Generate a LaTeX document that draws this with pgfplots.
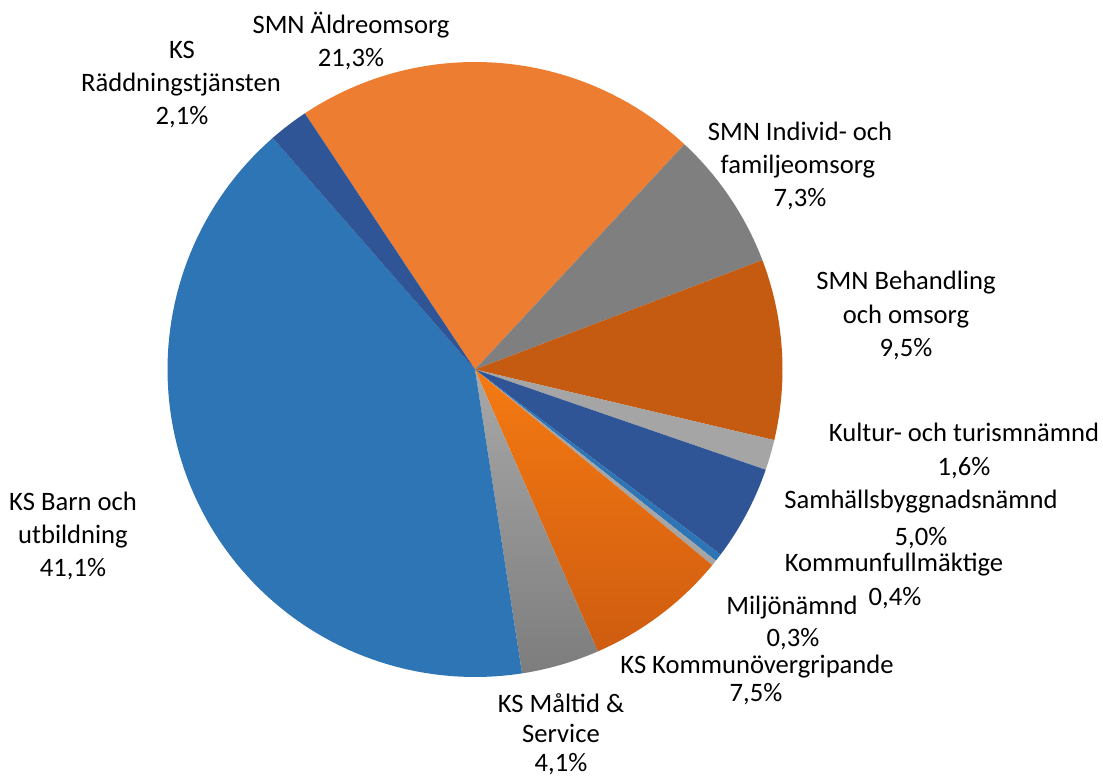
\documentclass[border=0pt]{standalone}
\usepackage{pgfplots}
\pgfplotsset{compat=1.18}
\usepackage{fontspec}
\setmainfont{Carlito}
\definecolor{cBarn}{HTML}{2E75B6}
\definecolor{cRadd}{HTML}{2F5597}
\definecolor{cAldre}{HTML}{ED7D31}
\definecolor{cIndivid}{HTML}{7F7F7F}
\definecolor{cBehand}{HTML}{C55A11}
\definecolor{cKultur}{HTML}{A5A5A5}
\definecolor{cSamh}{HTML}{2F5597}
\definecolor{cKfull}{HTML}{2E75B6}
\definecolor{cMiljo}{HTML}{A5A5A5}
\definecolor{cKoverA}{HTML}{F57A12}
\definecolor{cKoverB}{HTML}{CF5C10}
\definecolor{cMaltidA}{HTML}{A8A8A8}
\definecolor{cMaltidB}{HTML}{7D7D7D}
\tikzset{lbl/.style={font=\fontsize{13.3}{16}\selectfont, text height=10pt, text depth=1.6pt, inner sep=0pt, anchor=center},
  sAldre/.style={fill=cAldre}, sIndivid/.style={fill=cIndivid}, sBehand/.style={fill=cBehand},
  sKultur/.style={fill=cKultur}, sSamh/.style={fill=cSamh}, sKfull/.style={fill=cKfull},
  sMiljo/.style={fill=cMiljo}, sKover/.style={top color=cKoverA, bottom color=cKoverB},
  sMaltid/.style={top color=cMaltidA, bottom color=cMaltidB}, sBarn/.style={fill=cBarn},
  sRadd/.style={fill=cRadd}}
% slices clockwise from the top-left edge: value/style
\def\slices{21.3/sAldre,7.3/sIndivid,9.5/sBehand,1.6/sKultur,5.0/sSamh,0.4/sKfull,0.3/sMiljo,7.5/sKover,4.1/sMaltid,41.1/sBarn,2.1/sRadd}
\begin{document}
\begin{tikzpicture}
\xdef\total{0}
\foreach \v/\c in \slices {\pgfmathsetmacro\tmpsum{\total+\v}\xdef\total{\tmpsum}}
\begin{axis}[width=551.5pt, height=389pt, scale only axis,
  xmin=0, xmax=1103, ymin=0, ymax=778, hide axis, clip=false]
\xdef\cur{123.6}
\foreach \v/\c in \slices {
  \pgfmathsetmacro\nxt{\cur-\v*360/\total}
  \edef\temp{\noexpand\addplot[\c, draw=none, domain=\nxt:\cur, samples=90, variable=\noexpand\q]
    ({475+307.5*cos(\noexpand\q)},{408.5+307.5*sin(\noexpand\q)}) -- (axis cs:475,408.5) -- cycle;}
  \temp
  \xdef\cur{\nxt}
}
\node[lbl] at (axis cs:351,753) {SMN Äldreomsorg};
\node[lbl] at (axis cs:351,720) {21,3\%};
\node[lbl] at (axis cs:182,728) {KS};
\node[lbl] at (axis cs:181,695) {Räddningstjänsten};
\node[lbl] at (axis cs:182,662) {2,1\%};
\node[lbl] at (axis cs:800,646) {SMN Individ- och};
\node[lbl] at (axis cs:798,613) {familjeomsorg};
\node[lbl] at (axis cs:800,580) {7,3\%};
\node[lbl] at (axis cs:906,497) {SMN Behandling};
\node[lbl] at (axis cs:906,463) {och omsorg};
\node[lbl] at (axis cs:906,430) {9,5\%};
\node[lbl] at (axis cs:964,345) {Kultur- och turismnämnd};
\node[lbl] at (axis cs:964,311) {1,6\%};
\node[lbl] at (axis cs:921,278) {Samhällsbyggnadsnämnd};
\node[lbl] at (axis cs:921,241) {5,0\%};
\node[lbl] at (axis cs:894,215) {Kommunfullmäktige};
\node[lbl] at (axis cs:895,181) {0,4\%};
\node[lbl] at (axis cs:792,172) {Miljönämnd};
\node[lbl] at (axis cs:793,140) {0,3\%};
\node[lbl] at (axis cs:757,113) {KS Kommunövergripande};
\node[lbl] at (axis cs:756,85) {7,5\%};
\node[lbl] at (axis cs:561,74) {KS Måltid \&};
\node[lbl] at (axis cs:561,44) {Service};
\node[lbl] at (axis cs:561,15) {4,1\%};
\node[lbl] at (axis cs:73,276) {KS Barn och};
\node[lbl] at (axis cs:73,243) {utbildning};
\node[lbl] at (axis cs:73,210) {41,1\%};
\end{axis}
\pgfresetboundingbox
\path (current axis.south west) rectangle (current axis.north east);
\end{tikzpicture}
\end{document}
